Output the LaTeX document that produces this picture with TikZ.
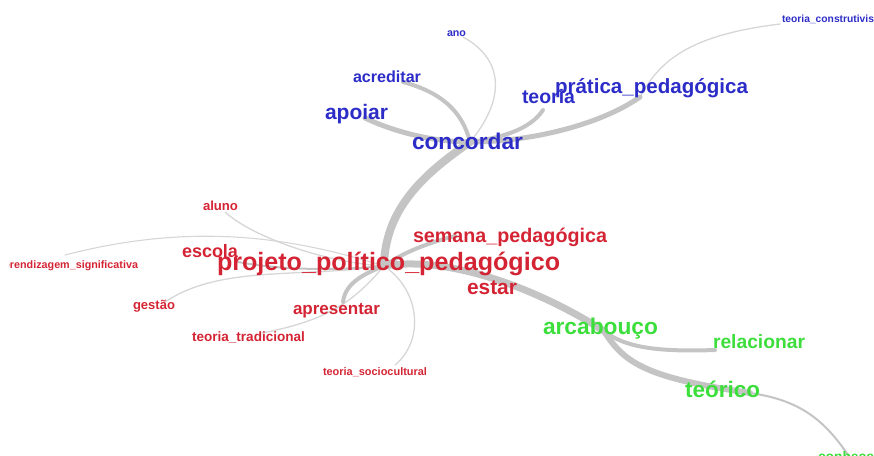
\documentclass[tikz,border=0pt]{standalone}
\usepackage{fontspec}
\setmainfont{Liberation Sans}
\usepackage{graphicx}
\definecolor{cblue}{RGB}{44,44,200}
\definecolor{cred}{RGB}{212,36,52}
\definecolor{cgreen}{RGB}{60,222,60}
\definecolor{edgeA}{RGB}{196,196,196}
\definecolor{edgeB}{RGB}{214,214,214}
\newcommand{\wl}[2]{\resizebox{#1pt}{!}{#2}}
\newcommand{\pl}[3]{\setbox0=\hbox{#2}\pgfmathsetmacro\lblscale{#1/\the\wd0}\scalebox{\lblscale}{#3}}
\tikzset{
  lbl/.style={inner sep=0pt, outer sep=0pt, anchor=base west, font=\bfseries},
  lblB/.style={lbl, text=cblue},
  lblR/.style={lbl, text=cred},
  lblG/.style={lbl, text=cgreen},
  edge/.style={draw=edgeA, line cap=round},
  thinedge/.style={draw=edgeB, line cap=round, line width=1.3pt}
}
\begin{document}
\begin{tikzpicture}[x=1pt,y=-1pt]
\useasboundingbox (0,0) rectangle (874,455);
\clip (0,0) rectangle (874,455);
% hubs and edge ends
\coordinate (hC) at (470,142);
\coordinate (hP) at (384,266);
\coordinate (hA) at (604,331);
\coordinate (hT) at (750,393);
\coordinate (ePra) at (640,97);
\coordinate (eCon) at (780,24);
\coordinate (eTeo) at (543,110);
\coordinate (eApo) at (365,118);
\coordinate (eAcr) at (403,82);
\coordinate (eAno) at (463,37);
\coordinate (eSem) at (455,236);
\coordinate (eApr) at (343,302);
\coordinate (eTra) at (262,333);
\coordinate (eSoc) at (395,365);
\coordinate (eAlu) at (225,212);
\coordinate (eAps) at (65,255);
\coordinate (eEsc) at (238,262);
\coordinate (eGes) at (165,302);
\coordinate (eRel) at (715,350);
\coordinate (eCnh) at (850,458);
% edges
\draw[thinedge] (hC) .. controls (505,100) and (505,60) .. (eAno);
\draw[thinedge] (ePra) .. controls (660,60) and (690,35) .. (eCon);
\draw[thinedge, line width=1.1pt] (hP) .. controls (300,240) and (200,220) .. (eAps);
\draw[thinedge] (hP) .. controls (320,262) and (250,235) .. (eAlu);
\draw[thinedge] (hP) .. controls (300,278) and (220,265) .. (eGes);
\draw[edge, line width=2pt] (hP) .. controls (320,272) and (270,268) .. (eEsc);
\draw[thinedge] (hP) .. controls (355,300) and (330,320) .. (eTra);
\draw[thinedge] (hP) .. controls (420,290) and (425,340) .. (eSoc);
\draw[edge, line width=2pt] (hT) .. controls (800,400) and (825,420) .. (eCnh);
\draw[edge, line width=4pt] (hC) .. controls (500,138) and (530,130) .. (eTeo);
\draw[edge, line width=5pt] (hC) .. controls (430,142) and (390,130) .. (eApo);
\draw[edge, line width=4pt] (hC) .. controls (462,110) and (440,92) .. (eAcr);
\draw[edge, line width=5pt] (hC) .. controls (530,142) and (600,125) .. (ePra);
\draw[edge, line width=4pt] (hP) .. controls (400,255) and (420,245) .. (eSem);
\draw[edge, line width=4pt] (hP) .. controls (360,275) and (345,285) .. (eApr);
\draw[edge, line width=4pt] (hA) .. controls (625,348) and (660,352) .. (eRel);
\draw[edge, line width=8pt] (hC) .. controls (430,170) and (385,205) .. (hP);
\draw[edge, line width=7pt] (hP) .. controls (450,255) and (540,290) .. (hA);
\draw[edge, line width=6pt] (hA) .. controls (625,365) and (650,378) .. (hT);
% labels
\node[lblB] (ano) at (447,36) {\wl{19}{ano}};
\node[lblB] (tcon) at (782,23) {\pl{92}{teoria\_construtivis}{teoria\_construtivismo}};
\node[lblB] (acreditar) at (353,82) {\wl{68}{acreditar}};
\node[lblB] (pratica) at (555,93) {\wl{193}{prática\_pedagógica}};
\node[lblB] (teoria) at (522,103) {\wl{53}{teoria}};
\node[lblB] (apoiar) at (325,119) {\wl{63}{apoiar}};
\node[lblB] (concordar) at (412,149) {\wl{111}{concordar}};
\node[lblR] (aluno) at (203,210) {\wl{35}{aluno}};
\node[lblR] (escola) at (182,257) {\wl{56}{escola}};
\begin{scope}
\clip (9,0) rectangle (874,455);
\node[lblR, anchor=base east] (aprend) at (138,268) {\pl{128}{rendizagem\_significativa}{aprendizagem\_significativa}};
\end{scope}
\node[lblR] (ppp) at (217,270) {\wl{343}{projeto\_político\_pedagógico}};
\node[lblR] (semana) at (413,242) {\wl{194}{semana\_pedagógica}};
\node[lblR] (gestao) at (133,309) {\wl{42}{gestão}};
\node[lblR] (estar) at (467,294) {\wl{50}{estar}};
\node[lblR] (apresentar) at (293,314) {\wl{87}{apresentar}};
\node[lblR] (ttrad) at (192,341) {\wl{113}{teoria\_tradicional}};
\node[lblR] (tsoc) at (323,375) {\wl{104}{teoria\_sociocultural}};
\node[lblG] (arcabouco) at (543,334) {\wl{115}{arcabouço}};
\node[lblG] (relacionar) at (713,348) {\wl{92}{relacionar}};
\node[lblG] (teorico) at (685,397) {\wl{75}{teórico}};
\node[lblG] (conhecer) at (818,461) {\pl{56}{conhece}{conhecer}};
\end{tikzpicture}
\end{document}
